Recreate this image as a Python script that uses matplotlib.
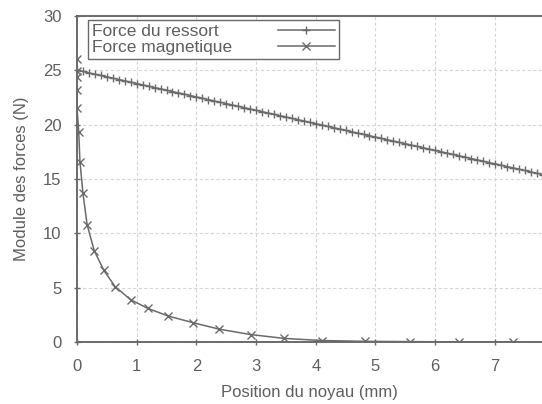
import matplotlib.pyplot as plt

# Force du ressort, one marker every 0.1 mm (straight line)
x_ressort = [i / 10 for i in range(79)]
f_ressort = [25.00, 24.88, 24.75, 24.63, 24.51, 24.39, 24.26, 24.14, 24.02, 23.89,
             23.77, 23.65, 23.52, 23.40, 23.28, 23.16, 23.03, 22.91, 22.79, 22.66,
             22.54, 22.42, 22.29, 22.17, 22.05, 21.93, 21.80, 21.68, 21.56, 21.43,
             21.31, 21.19, 21.06, 20.94, 20.82, 20.70, 20.57, 20.45, 20.33, 20.20,
             20.08, 19.96, 19.83, 19.71, 19.59, 19.47, 19.34, 19.22, 19.10, 18.97,
             18.85, 18.73, 18.60, 18.48, 18.36, 18.24, 18.11, 17.99, 17.87, 17.74,
             17.62, 17.50, 17.37, 17.25, 17.13, 17.01, 16.88, 16.76, 16.64, 16.51,
             16.39, 16.27, 16.14, 16.02, 15.90, 15.78, 15.65, 15.53, 15.41]

# Force magnetique, marker positions
x_magn = [0.0, 0.0, 0.0, 0.0, 0.0, 0.03, 0.05, 0.10, 0.17, 0.29, 0.45, 0.64,
          0.90, 1.19, 1.53, 1.94, 2.38, 2.91, 3.47, 4.11, 4.82, 5.58, 6.40, 7.30]
f_magn = [26.0, 24.9, 24.4, 23.2, 21.5, 19.3, 16.6, 13.7, 10.8, 8.4, 6.6, 5.1,
          3.9, 3.1, 2.4, 1.8, 1.2, 0.7, 0.35, 0.15, 0.08, 0.05, 0.03, 0.02]

x_ticks = [0, 1, 2, 3, 4, 5, 6, 7]
y_ticks = [0, 5, 10, 15, 20, 25, 30]

plt.rcParams['font.family'] = ['Liberation Sans', 'DejaVu Sans']
gris = '#6a6a6a'
texte = '#5e5e5e'

fig = plt.figure(figsize=(5.42, 4.04), dpi=100)
ax = fig.add_axes([0.142, 0.153, 0.858, 0.808])

ax.plot(x_ressort, f_ressort, color=gris, lw=1.1, marker='+', ms=6, mew=1.0,
        label='Force du ressort')
ax.plot(x_magn, f_magn, color=gris, lw=1.1, marker='x', ms=6, mew=1.0,
        label='Force magnetique')

ax.set_xlim(0, 7.79)
ax.set_ylim(0, 30)
ax.set_xticks(x_ticks)
ax.set_yticks(y_ticks)
ax.grid(True, color='#d6d6d6', lw=0.8, ls=(0, (3, 2)))
ax.set_axisbelow(True)

for s in ['left', 'bottom', 'top']:
    ax.spines[s].set_color(gris)
    ax.spines[s].set_linewidth(1.4)
ax.spines['right'].set_visible(False)
ax.tick_params(direction='inout', length=4.5, width=1, color=gris,
               labelcolor=texte, labelsize=12)
ax.tick_params(axis='x', pad=9.5)
ax.tick_params(axis='y', pad=9)

ax.set_xlabel('Position du noyau (mm)', color=texte, fontsize=12, labelpad=8)
ax.set_ylabel('Module des forces (N)', color=texte, fontsize=12, labelpad=10)

leg = ax.legend(loc='upper left', bbox_to_anchor=(0.024, 0.988), markerfirst=False,
                fancybox=False, framealpha=1, edgecolor=gris, fontsize=12.5,
                handlelength=3.3, borderpad=0.25, labelspacing=0.02,
                handletextpad=2.6, borderaxespad=0)
leg.get_frame().set_linewidth(1.0)
for t in leg.get_texts():
    t.set_color(texte)

# left-align the labels while keeping the line samples in one column
fig.canvas.draw()
r = fig.canvas.get_renderer()
widths = [t.get_window_extent(r).width for t in leg.get_texts()]
col = leg._legend_handle_box.get_children()[0]
col.align = 'left'
for row, w in zip(col.get_children(), widths):
    row.sep += (max(widths) - w) * 72 / fig.dpi

fig.savefig('out.png', dpi=100)
